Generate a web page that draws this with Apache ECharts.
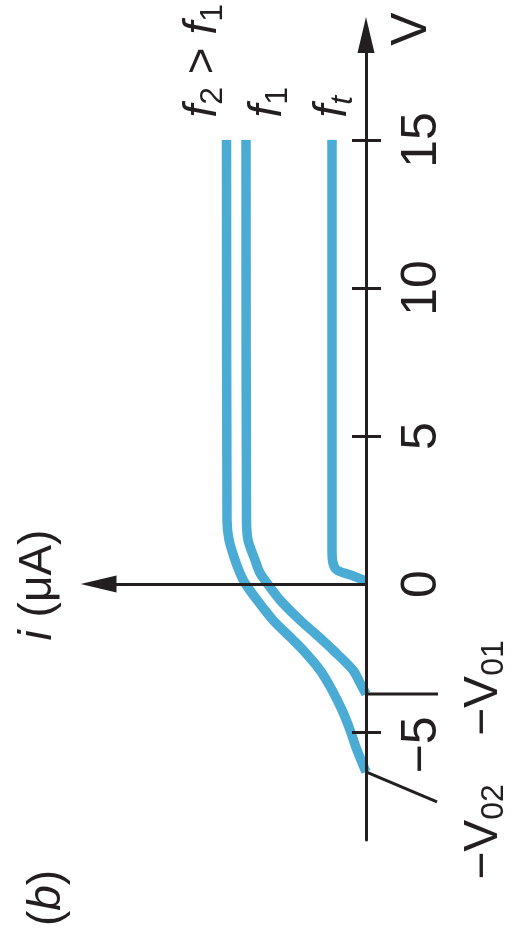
<!DOCTYPE html>
<html>
<head>
<meta charset="utf-8">
<script src="https://cdn.jsdelivr.net/npm/echarts@6/dist/echarts.min.js"></script>
<style>
  html, body { margin: 0; padding: 0; background: #ffffff; }
  #chart { width: 513px; height: 939px; }
</style>
</head>
<body>
<div id="chart"></div>
<script>
// Photocurrent i (µA) against anode voltage V for three light frequencies.
// The whole figure is turned a quarter turn: V runs upward, i runs to the left.

const voltLabelTicks = [-5, 0, 5, 10, 15];
const voltMarkTicks = [-5, 5, 10, 15];

// f2 > f1 curve
const f2Volts = [-6.35, -5.61, -4.93, -4.26, -3.58, -2.91, -2.23, -1.79, -1.22, -0.54, 0.03, 0.37, 0.81, 1.49, 2.16, 15];
const f2Amps  = [0, 0.9, 1.6, 2.4, 3.4, 4.6, 6.3, 7.6, 9.3, 10.9, 12.1, 12.6, 13.1, 13.7, 13.9, 13.95];

// f1 curve
const f1Volts = [-3.72, -3.34, -2.91, -2.23, -1.79, -1.22, -0.54, 0.03, 0.37, 0.81, 1.49, 2.16, 15];
const f1Amps  = [0, 0.6, 1.3, 3.3, 4.7, 6.6, 8.6, 9.9, 10.6, 11.1, 11.8, 11.95, 12.0];

// threshold frequency ft
const ftVolts = [0.1, 0.3, 0.47, 0.71, 1.15, 15];
const ftAmps  = [0, 1.5, 2.9, 3.3, 3.4, 3.4];

// stopping potentials V01 and V02
const stopVolts = [3.72, 6.35];

const INK = '#231f20';
const BLUE = '#4aabd5';
const FONT = 'Liberation Sans';

const fRich = {
  f: { fontFamily: FONT, fontSize: 46, fontStyle: 'italic', color: INK, lineHeight: 52 },
  o: { fontFamily: FONT, fontSize: 46, color: INK, lineHeight: 52 },
  s: { fontFamily: FONT, fontSize: 32, color: INK, lineHeight: 32, verticalAlign: 'bottom', padding: [14, 0, 0, 0] },
  si: { fontFamily: FONT, fontSize: 32, fontStyle: 'italic', color: INK, lineHeight: 32, verticalAlign: 'bottom', padding: [14, 0, 0, 0] }
};

function curveData(volts, amps, text, shift) {
  return volts.map(function (v, k) {
    if (k < volts.length - 1) return [amps[k], v];
    return {
      value: [amps[k], v],
      label: {
        show: true,
        position: 'top',
        distance: 22,
        rotate: 90,
        align: 'left',
        verticalAlign: 'middle',
        offset: [0, shift],
        formatter: text,
        rich: fRich
      }
    };
  });
}

function curveSeries(name, data) {
  return {
    name: name,
    type: 'line',
    data: data,
    smooth: 0.3,
    symbol: 'circle',
    symbolSize: 1,
    showSymbol: true,
    itemStyle: { color: BLUE },
    lineStyle: { color: BLUE, width: 9.5, cap: 'butt', join: 'round' },
    emphasis: { disabled: true },
    z: 2
  };
}

const chart = echarts.init(document.getElementById('chart'), null, { renderer: 'canvas' });

const axisRange = { min: -8.65, max: 18.55 };

chart.setOption({
  animation: false,
  backgroundColor: '#ffffff',
  grid: { left: 98.5, right: 147, top: 35, bottom: 99, containLabel: false },
  xAxis: {
    type: 'value',
    min: 0,
    max: 26.75,
    inverse: true,
    z: 5,
    axisLine: {
      show: true,
      onZero: true,
      symbol: ['triangle', 'none'],
      symbolSize: [17, 36],
      lineStyle: { color: INK, width: 3 }
    },
    axisTick: { show: false },
    axisLabel: { show: false },
    splitLine: { show: false }
  },
  yAxis: [
    {
      type: 'value',
      position: 'right',
      min: axisRange.min,
      max: axisRange.max,
      z: 5,
      axisLine: {
        show: true,
        onZero: false,
        symbol: ['none', 'triangle'],
        symbolSize: [17, 36],
        lineStyle: { color: INK, width: 3 }
      },
      axisTick: { show: false },
      axisLabel: {
        show: true,
        customValues: voltLabelTicks,
        rotate: 90,
        margin: 31,
        color: INK,
        fontFamily: FONT,
        fontSize: 50,
        formatter: function (v) {
          return v < 0 ? '{n|\u2212' + Math.abs(v) + '}' : String(v);
        },
        rich: {
          n: { fontFamily: FONT, fontSize: 50, color: INK, padding: [0, 26, 0, 0] }
        }
      },
      splitLine: { show: false }
    },
    {
      // crossing tick marks, centred on the V axis line
      type: 'value',
      position: 'right',
      offset: -14,
      min: axisRange.min,
      max: axisRange.max,
      z: 5,
      axisLine: { show: false, onZero: false },
      axisTick: {
        show: true,
        customValues: voltMarkTicks,
        length: 29,
        lineStyle: { color: INK, width: 3 }
      },
      axisLabel: { show: false },
      splitLine: { show: false }
    }
  ],
  graphic: [
    {
      type: 'text', x: 412, y: 29, rotation: Math.PI / 2,
      style: { text: 'V', fontFamily: FONT, fontSize: 50, fill: INK, align: 'center', verticalAlign: 'middle' }
    },
    {
      type: 'text', x: 38, y: 585, rotation: Math.PI / 2,
      style: {
        text: '{i|i} (\u03bcA)',
        fontFamily: FONT, fontSize: 46, fill: INK, align: 'center', verticalAlign: 'middle',
        rich: { i: { fontFamily: FONT, fontSize: 46, fontStyle: 'italic', fill: INK } }
      }
    },
    {
      type: 'text', x: 47, y: 898, rotation: Math.PI / 2,
      style: {
        text: '({b|b})',
        fontFamily: FONT, fontSize: 46, fill: INK, align: 'center', verticalAlign: 'middle',
        rich: { b: { fontFamily: FONT, fontSize: 46, fontStyle: 'italic', fill: INK } }
      }
    }
  ],
  series: [
    curveSeries('f2', curveData(f2Volts, f2Amps, '{f|f}{s|2}{o| > }{f|f}{s|1}', -23)),
    curveSeries('f1', curveData(f1Volts, f1Amps, '{f|f}{s|1}', 22)),
    curveSeries('ft', curveData(ftVolts, ftAmps, '{f|f}{si|t}', 1)),
    {
      name: 'stopping potential',
      type: 'custom',
      coordinateSystem: 'cartesian2d',
      clip: false,
      z: 6,
      data: stopVolts.map(function (v) { return [0, -v]; }),
      renderItem: function (params, api) {
        const p = api.coord([api.value(0), api.value(1)]);
        const k = params.dataIndex;
        const end = k === 0 ? [p[0] + 72, p[1]] : [p[0] + 71, p[1] + 30];
        const lab = k === 0 ? [p[0] + 118, p[1] - 6] : [p[0] + 118, p[1] + 60];
        const sub = k === 0 ? '01' : '02';
        return {
          type: 'group',
          children: [
            {
              type: 'line',
              shape: { x1: p[0], y1: p[1], x2: end[0], y2: end[1] },
              style: { stroke: INK, lineWidth: 3 }
            },
            {
              type: 'text',
              x: lab[0], y: lab[1], rotation: Math.PI / 2,
              style: {
                text: '{m|\u2212V}{s|' + sub + '}',
                align: 'center', verticalAlign: 'middle',
                rich: {
                  m: { fontFamily: FONT, fontSize: 48, fill: INK, lineHeight: 52 },
                  s: { fontFamily: FONT, fontSize: 32, fill: INK, lineHeight: 32, verticalAlign: 'bottom', padding: [14, 0, 0, 0] }
                }
              }
            }
          ]
        };
      }
    }
  ]
});
</script>
</body>
</html>
